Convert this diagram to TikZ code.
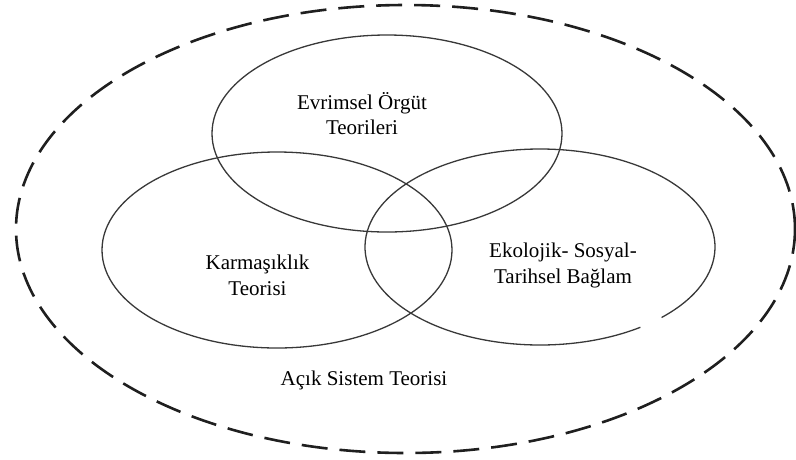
\documentclass[tikz,border=0pt]{standalone}
\usepackage{fontspec}
\setmainfont{Liberation Serif}
\usetikzlibrary{calc}
\tikzset{
  ring/.style={draw=black!78, line width=1.3pt},
  outerring/.style={draw=black!88, line width=2.6pt, dash pattern=on 26pt off 12pt},
  lbl/.style={font=\fontsize{21}{25.5}\selectfont, align=center, inner sep=0pt, text=black}
}
\begin{document}
\begin{tikzpicture}[x=1pt,y=-1pt]
\useasboundingbox (0,0) rectangle (796,459);
% centres
\coordinate (oc) at (405.5,229);
\coordinate (tc) at (387,133.5);
\coordinate (lc) at (277,250);
\coordinate (rc) at (540,247);
% outer dashed ellipse
\draw[outerring] (oc) ellipse [x radius=389.5pt, y radius=224pt];
% inner ellipses
\draw[ring] (tc) ellipse [x radius=175pt, y radius=98.5pt];
\draw[ring] (lc) ellipse [x radius=175pt, y radius=98pt];
\draw[ring] ($(rc)+(-46:175pt and 98pt)$) arc [start angle=-46, end angle=305, x radius=175pt, y radius=98pt];
% labels
\node[lbl] (evr) at (362,113.5) {Evrimsel Örgüt\\Teorileri};
\node[lbl] (kar) at (257.5,275.5) {Karmaşıklık\\Teorisi};
\node[lbl] (eko) at (563,265.5) {Ekolojik- Sosyal-\\Tarihsel Bağlam};
\node[lbl, anchor=base] (acik) at (364,385) {Açık Sistem Teorisi};
\end{tikzpicture}
\end{document}
